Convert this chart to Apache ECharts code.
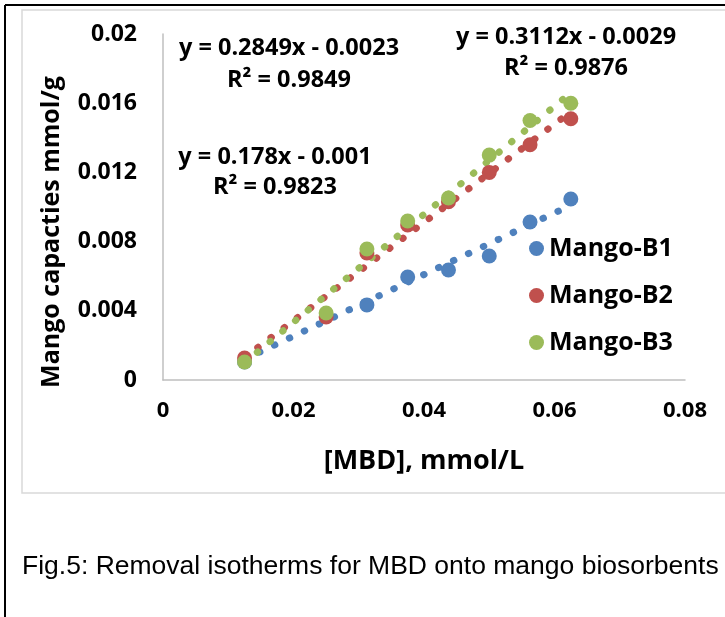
<!DOCTYPE html>
<html>
<head>
<meta charset="utf-8">
<script src="https://cdn.jsdelivr.net/npm/echarts@6/dist/echarts.min.js"></script>
<style>
html, body { margin: 0; padding: 0; background: #fff; }
#chart { width: 725px; height: 617px; }
</style>
</head>
<body>
<div id="chart"></div>
<script>
// data
const concB1 = [0.0125, 0.03125, 0.0375, 0.04375, 0.05, 0.05625, 0.0625];
const capB1 = [0.00104, 0.00434, 0.00595, 0.00636, 0.00717, 0.00913, 0.01046];
const concB23 = [0.0125, 0.025, 0.03125, 0.0375, 0.04375, 0.05, 0.05625, 0.0625];
const capB2 = [0.00127, 0.00364, 0.00734, 0.00896, 0.0103, 0.0120, 0.0136, 0.0151];
const capB3 = [0.00104, 0.00387, 0.00757, 0.00919, 0.01052, 0.0130, 0.0150, 0.0160];

// trendline ends (x range of the data)
const trendX = [0.0125, 0.0625];
const trendB1 = [0.0012, 0.0101];
const trendB2 = [0.0013, 0.0155];
const trendB3 = [0.0010, 0.0166];

const seriesNames = ['Mango-B1', 'Mango-B2', 'Mango-B3'];
const colors = ['#4f81bd', '#c0504d', '#9bbb59'];
const xTicks = [0, 0.02, 0.04, 0.06, 0.08];
const yTicks = [0, 0.004, 0.008, 0.012, 0.016, 0.02];

const eqLines = [
    { text: 'y = 0.2849x - 0.0023', x: 289, y: 48 },
    { text: 'R² = 0.9849', x: 289, y: 80 },
    { text: 'y = 0.178x - 0.001', x: 275, y: 157 },
    { text: 'R² = 0.9823', x: 275, y: 187 },
    { text: 'y = 0.3112x - 0.0029', x: 566, y: 37 },
    { text: 'R² = 0.9876', x: 566, y: 68 }
];

const pairs = (xs, ys) => xs.map((x, i) => [x, ys[i]]);

const chart = echarts.init(document.getElementById('chart'));

const boldFont = { fontFamily: '"Open Sans", sans-serif', fontWeight: 'bold', color: '#000' };

function trend(name, ys, color) {
    return {
        name: name,
        type: 'line',
        data: pairs(trendX, ys),
        symbol: 'none',
        silent: true,
        lineStyle: { color: color, width: 7, type: [0.5, 16], cap: 'round' },
        z: 2
    };
}

function points(name, xs, ys, color, z) {
    return {
        name: name,
        type: 'scatter',
        data: pairs(xs, ys),
        symbolSize: 15,
        itemStyle: { color: color, opacity: 1 },
        z: z
    };
}

const option = {
    animation: false,
    backgroundColor: '#fff',
    grid: { left: 163, right: 40, top: 34, bottom: 237, outerBoundsMode: 'none' },
    xAxis: {
        type: 'value',
        min: xTicks[0],
        max: xTicks[xTicks.length - 1],
        interval: 0.02,
        name: '[MBD], mmol/L',
        nameLocation: 'middle',
        nameGap: 68,
        nameTextStyle: Object.assign({ fontSize: 27 }, boldFont),
        axisLine: { lineStyle: { color: '#bfbfbf', width: 1.5 } },
        axisTick: { show: false },
        splitLine: { show: false },
        axisLabel: Object.assign({ fontSize: 22, margin: 20 }, boldFont)
    },
    yAxis: {
        type: 'value',
        min: yTicks[0],
        max: yTicks[yTicks.length - 1],
        interval: 0.004,
        axisLine: { show: true, lineStyle: { color: '#bfbfbf', width: 1.5 } },
        axisTick: { show: false },
        splitLine: { show: false },
        axisLabel: Object.assign({ fontSize: 23, margin: 26 }, boldFont)
    },
    legend: {
        data: seriesNames,
        orient: 'vertical',
        left: 524,
        top: 231,
        icon: 'circle',
        itemWidth: 15,
        itemHeight: 15,
        itemGap: 22,
        textStyle: Object.assign({ fontSize: 25, lineHeight: 25 }, boldFont)
    },
    series: [
        trend('trend1', trendB1, colors[0]),
        trend('trend2', trendB2, colors[1]),
        trend('trend3', trendB3, colors[2]),
        points(seriesNames[0], concB1, capB1, colors[0], 3),
        points(seriesNames[1], concB23, capB2, colors[1], 4),
        points(seriesNames[2], concB23, capB3, colors[2], 5)
    ],
    graphic: [
        { type: 'line', shape: { x1: 5, y1: 5, x2: 5, y2: 617 }, style: { stroke: '#000', lineWidth: 2 }, silent: true },
        { type: 'line', shape: { x1: 5, y1: 5, x2: 725, y2: 5 }, style: { stroke: '#000', lineWidth: 2 }, silent: true },
        { type: 'rect', shape: { x: 22, y: 10, width: 720, height: 483 }, style: { fill: null, stroke: '#d9d9d9', lineWidth: 1.5 }, silent: true, z: -1 },
        {
            type: 'text', x: 52, y: 232, rotation: Math.PI / 2,
            style: { text: 'Mango capacties mmol/g', fill: '#000', font: 'bold 25px "Open Sans", sans-serif', align: 'center', verticalAlign: 'middle', textAlign: 'center', textVerticalAlign: 'middle' }
        },
        {
            type: 'text', x: 22, y: 567,
            style: { text: 'Fig.5: Removal isotherms for MBD onto mango biosorbents', fill: '#000', font: '26.5px "Liberation Sans", Arial, sans-serif', align: 'left', verticalAlign: 'middle', textAlign: 'left', textVerticalAlign: 'middle' }
        }
    ].concat(eqLines.map(e => ({
        type: 'text', x: e.x, y: e.y, z: 10,
        style: { text: e.text, fill: '#000', font: 'bold 23.5px "Open Sans", sans-serif', align: 'center', verticalAlign: 'middle', textAlign: 'center', textVerticalAlign: 'middle' }
    })))
};

option && chart.setOption(option);
</script>
</body>
</html>
